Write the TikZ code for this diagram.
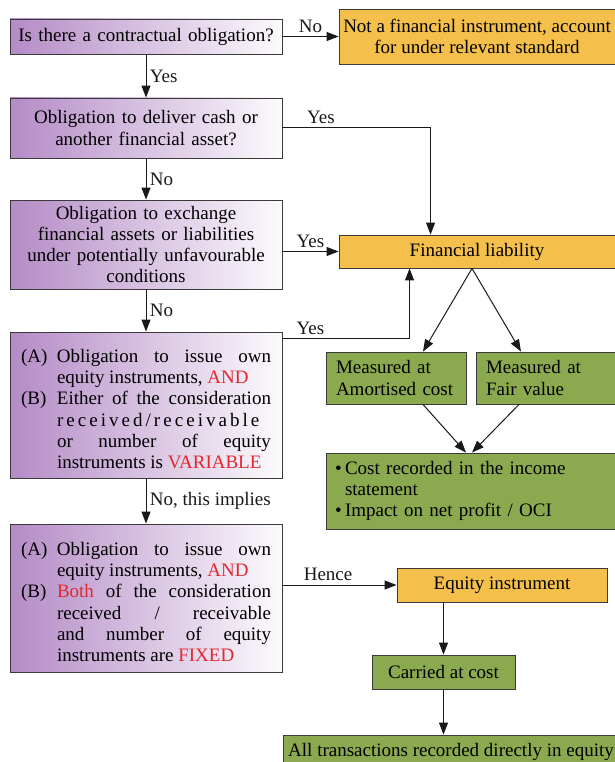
\documentclass[tikz,border=0pt]{standalone}
\usepackage{fontspec}
\setmainfont{Liberation Serif}
\usepackage{xcolor}
\usetikzlibrary{arrows.meta,calc}

\definecolor{qpurple}{HTML}{B48BC6}
\definecolor{ansorange}{HTML}{F4C04B}
\definecolor{resgreen}{HTML}{8BA94F}
\definecolor{keyred}{HTML}{E2272F}
\definecolor{edgegray}{HTML}{3A3A3A}

\newcommand{\redtxt}[1]{\textcolor{keyred}{#1}}
\newcommand{\abpart}[2]{\par\noindent\hangindent=36pt\hangafter=1\makebox[36pt][l]{#1}#2\par}

\begin{document}
\begin{tikzpicture}[x=1pt, y=-1pt,
    font=\fontsize{19}{21.2}\selectfont,
    qbox/.style={draw=edgegray, line width=0.9pt, left color=qpurple, right color=qpurple!4,
      minimum width=272pt, inner xsep=11pt, text width=250pt},
    ybox/.style={draw=edgegray, line width=0.9pt, fill=ansorange, align=center},
    gbox/.style={draw=edgegray, line width=0.9pt, fill=resgreen},
    arr/.style={-{Triangle[length=12pt,width=9pt]}, line width=1pt, black!90}]

  \fill[white] (0,0) rectangle (614,762);
  \useasboundingbox (0,0) rectangle (614,762);

  % Questions
  \node[qbox, align=center, minimum height=35pt, inner xsep=3pt, text width=266pt] (q1) at (146,36.5)
    {Is there a contractual obligation?};
  \node[qbox, align=center, minimum height=60pt] (q2) at (146,128) {Obligation to deliver cash or\\another financial asset?};
  \node[qbox, align=center, minimum height=89pt] (q3) at (146,244.5)
    {Obligation to exchange\\financial assets or liabilities\\under potentially unfavourable\\conditions};
  \node[qbox, align=justify, minimum height=146pt] (q4) at (146,405) {\sloppy
    \abpart{(A)}{Obligation to issue own\linebreak equity instruments, \redtxt{AND}}
    \abpart{(B)}{Either of the consideration\linebreak {\addfontfeature{LetterSpace=16}received/receivable}\linebreak
      or number of equity\linebreak instruments is \redtxt{VARIABLE}}};
  \node[qbox, align=justify, minimum height=148pt] (q5) at (146,598) {\sloppy
    \abpart{(A)}{Obligation to issue own\linebreak equity instruments, \redtxt{AND}}
    \abpart{(B)}{\redtxt{Both} of the consideration\linebreak received / receivable\linebreak
      and number of equity\linebreak instruments are \redtxt{FIXED}}};

  % Outcomes
  \node[ybox, minimum width=276pt, minimum height=55pt, inner xsep=2pt] (notfin) at (477,36.5)
    {Not a financial instrument, account\\for under relevant standard};
  \node[ybox, minimum width=276pt, minimum height=33pt] (fl) at (477,251.5) {Financial liability};
  \node[gbox, minimum width=140pt, minimum height=52pt, inner xsep=10pt, text width=120pt, align=left] (am) at (396,378)
    {Measured at\\Amortised cost};
  \node[gbox, minimum width=140pt, minimum height=52pt, inner xsep=10pt, text width=120pt, align=left] (fv) at (546,378)
    {Measured at\\Fair value};
  \node[gbox, minimum width=294pt, minimum height=76pt, inner xsep=9pt, text width=276pt, align=left] (cost) at (473,491)
    {\makebox[10pt][l]{\textbullet}Cost recorded in the income\\\hspace*{10pt}statement\\
     \makebox[10pt][l]{\textbullet}Impact on net profit / OCI};
  \node[ybox, minimum width=210pt, minimum height=34pt] (eq) at (502,585) {Equity instrument};
  \node[gbox, minimum width=143pt, minimum height=34pt] (carried) at (443.5,672) {Carried at cost};
  \node[gbox, minimum width=336pt, minimum height=34pt] (all) at (451,752) {All transactions recorded directly in equity};

  % Helper points
  \coordinate (flin) at ([xshift=92pt]fl.north west);
  \coordinate (flup) at ([xshift=71pt]fl.south west);
  \coordinate (split) at ([xshift=-5pt]fl.south);

  % Connectors
  \draw[arr] (q1.east) -- (notfin.west) node[midway, above] {No};
  \draw[arr] (q1) -- (q2) node[midway, right] {Yes};
  \draw[arr] (q2.east) -| (flin) node[pos=0.13, above] {Yes};
  \draw[arr] (q2) -- (q3) node[midway, right] {No};
  \draw[arr] (q3.east |- fl.west) -- (fl.west) node[midway, above] {Yes};
  \draw[arr] (q3) -- (q4) node[midway, right] {No};
  \draw[arr] ([yshift=-7pt]q4.north east) -| (flup) node[pos=0.11, above] {Yes};
  \draw[arr] (split) -- ([xshift=27pt]am.north);
  \draw[arr] (split) -- ([xshift=-25pt]fv.north);
  \draw[arr] ([xshift=27pt]am.south) -- ([xshift=-7pt]cost.north);
  \draw[arr] ([xshift=-27pt]fv.south) -- ([xshift=-1pt]cost.north);
  \draw[arr] (q4) -- (q5) node[midway, right] {No, this implies};
  \draw[arr] (q5.east |- eq.west) -- (eq.west) node[pos=0.4, above] {Hence};
  \draw[arr] (carried.north |- eq.south) -- (carried);
  \draw[arr] (carried) -- (carried.south |- all.north);
\end{tikzpicture}
\end{document}
